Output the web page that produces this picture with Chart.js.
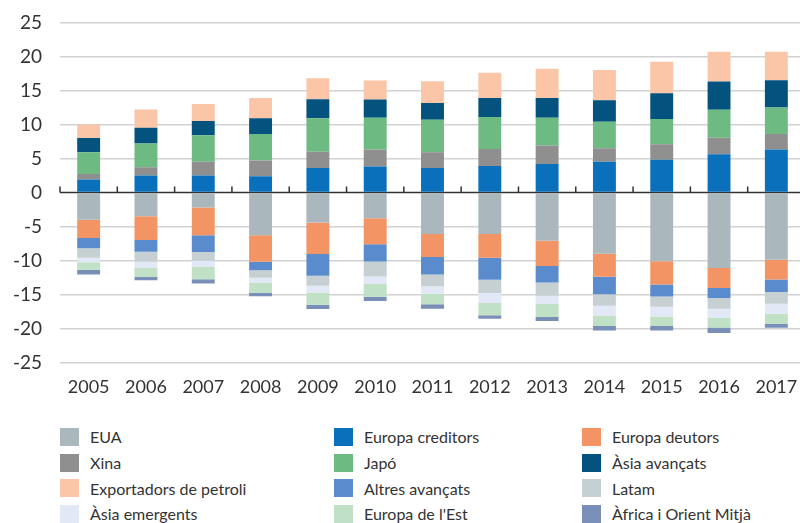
<!DOCTYPE html>
<html>
<head>
<meta charset="utf-8">
<script src="https://cdn.jsdelivr.net/npm/chart.js@4"></script>
<style>
    html, body { margin: 0; padding: 0; background: #fff; overflow: hidden; }
    body { width: 800px; height: 523px; position: relative; font-family: Lato, sans-serif; }
    #wrap { position: absolute; left: 0; top: -7px; width: 810px; height: 407px; }
    #legend {
        position: absolute; left: 60px; top: 424px;
        display: grid; grid-template-columns: 274px 248px 210px;
        grid-auto-rows: 25.7px;
    }
    .item { display: flex; align-items: center; font-size: 16px; color: #333; white-space: nowrap; }
    .box { width: 19px; height: 18px; margin-right: 11px; flex: none; }
</style>
</head>
<body>
<div id="wrap"><canvas id="chart" width="810" height="407"></canvas></div>
<div id="legend"></div>
<script>
// years and series (billions)
const years = ['2005', '2006', '2007', '2008', '2009', '2010', '2011', '2012', '2013', '2014', '2015', '2016', '2017'];
const eua = [-4.0, -3.5, -2.2, -6.3, -4.4, -3.8, -6.1, -6.1, -7.1, -9.0, -10.1, -11.1, -9.9];
const europaCreditors = [1.9, 2.5, 2.5, 2.4, 3.6, 3.8, 3.6, 3.9, 4.2, 4.5, 4.8, 5.6, 6.3];
const europaDeutors = [-2.7, -3.5, -4.1, -3.9, -4.65, -3.8, -3.4, -3.5, -3.7, -3.4, -3.45, -2.95, -2.9];
const xina = [0.8, 1.2, 2.0, 2.3, 2.4, 2.5, 2.3, 2.5, 2.7, 2.0, 2.3, 2.45, 2.3];
const japo = [3.2, 3.5, 3.9, 3.9, 4.9, 4.7, 4.8, 4.7, 4.1, 3.9, 3.7, 4.1, 3.9];
const asiaAvancats = [2.1, 2.3, 2.1, 2.3, 2.8, 2.65, 2.45, 2.8, 2.9, 3.15, 3.8, 4.15, 4.0];
const exportadors = [2.0, 2.7, 2.5, 3.0, 3.1, 2.8, 3.2, 3.7, 4.3, 4.45, 4.6, 4.4, 4.2];
const altresAvancats = [-1.5, -1.7, -2.45, -1.25, -3.2, -2.55, -2.55, -3.25, -2.45, -2.55, -1.75, -1.45, -1.85];
const latam = [-1.4, -1.5, -1.3, -1.1, -1.45, -2.2, -1.75, -1.95, -1.95, -1.7, -1.5, -1.6, -1.7];
const asiaEmergents = [-0.65, -0.9, -0.9, -0.75, -1.0, -1.1, -1.1, -1.45, -1.2, -1.45, -1.45, -1.3, -1.5];
const europaEst = [-1.1, -1.3, -1.8, -1.45, -1.8, -1.9, -1.55, -1.8, -1.9, -1.55, -1.4, -1.45, -1.45];
const africa = [-0.7, -0.5, -0.65, -0.5, -0.65, -0.6, -0.65, -0.5, -0.6, -0.65, -0.65, -0.8, -0.6];

const yTicks = [-25, -20, -15, -10, -5, 0, 5, 10, 15, 20, 25];

// order = legend order (row by row); also gives stacking order from zero outwards
const series = [
    { label: 'EUA', data: eua, color: '#aab8be' },
    { label: 'Europa creditors', data: europaCreditors, color: '#0b70bb' },
    { label: 'Europa deutors', data: europaDeutors, color: '#f39464' },
    { label: 'Xina', data: xina, color: '#8f8f8f' },
    { label: 'Japó', data: japo, color: '#6dbb83' },
    { label: 'Àsia avançats', data: asiaAvancats, color: '#03537e' },
    { label: 'Exportadors de petroli', data: exportadors, color: '#fbc6a8' },
    { label: 'Altres avançats', data: altresAvancats, color: '#5a8ccd' },
    { label: 'Latam', data: latam, color: '#c6cfd2' },
    { label: 'Àsia emergents', data: asiaEmergents, color: '#e2e8f6' },
    { label: "Europa de l'Est", data: europaEst, color: '#c0e1c6' },
    { label: 'Àfrica i Orient Mitjà', data: africa, color: '#7a8fb8' }
];

// zero line with small up-ticks between the years
const zeroLine = {
    id: 'zeroLine',
    beforeDatasetsDraw: function (chart) {
        const ctx = chart.ctx;
        const x = chart.scales.x;
        const y0 = chart.scales.y.getPixelForValue(0);
        const half = (x.getPixelForValue(1) - x.getPixelForValue(0)) / 2;
        ctx.save();
        ctx.strokeStyle = '#333';
        ctx.lineWidth = 1.5;
        ctx.beginPath();
        ctx.moveTo(chart.chartArea.left, y0);
        ctx.lineTo(chart.chartArea.right, y0);
        for (let i = 0; i <= years.length; i++) {
            const px = x.getPixelForValue(i) - half;
            ctx.moveTo(px, y0);
            ctx.lineTo(px, y0 - 6);
        }
        ctx.stroke();
        ctx.restore();
    }
};

const chart = new Chart(document.getElementById('chart'), {
    type: 'bar',
    data: {
        labels: years,
        datasets: series.map(s => ({
            label: s.label,
            data: s.data,
            backgroundColor: s.color,
            borderWidth: 0,
            categoryPercentage: 1,
            barPercentage: 0.4
        }))
    },
    options: {
        responsive: false,
        animation: false,
        layout: { padding: { top: 15, right: 5, left: 0, bottom: 0 } },
        plugins: {
            legend: { display: false },
            tooltip: { enabled: false }
        },
        scales: {
            x: {
                stacked: true,
                grid: { display: false },
                border: { display: false },
                ticks: {
                    color: '#333',
                    font: { family: 'Lato', size: 18 },
                    padding: 6,
                    maxRotation: 0
                },
                afterFit: function (scale) { scale.height = 37.5; }
            },
            y: {
                stacked: true,
                min: -25,
                max: 25,
                afterBuildTicks: function (scale) {
                    scale.ticks = yTicks.map(v => ({ value: v }));
                },
                grid: {
                    color: ctx => ctx.tick && ctx.tick.value === 0 ? 'rgba(0,0,0,0)' : '#d2d2d2',
                    lineWidth: 1.5,
                    drawTicks: false
                },
                border: { display: false },
                ticks: {
                    color: '#333',
                    font: { family: 'Lato', size: 19 },
                    padding: 18
                },
                afterFit: function (scale) { scale.width = 60; }
            }
        }
    },
    plugins: [zeroLine]
});

// legend in three columns, built from the datasets
const legendEl = document.getElementById('legend');
chart.data.datasets.forEach(ds => {
    const item = document.createElement('div');
    item.className = 'item';
    const box = document.createElement('span');
    box.className = 'box';
    box.style.background = ds.backgroundColor;
    item.appendChild(box);
    item.appendChild(document.createTextNode(ds.label));
    legendEl.appendChild(item);
});
</script>
</body>
</html>
